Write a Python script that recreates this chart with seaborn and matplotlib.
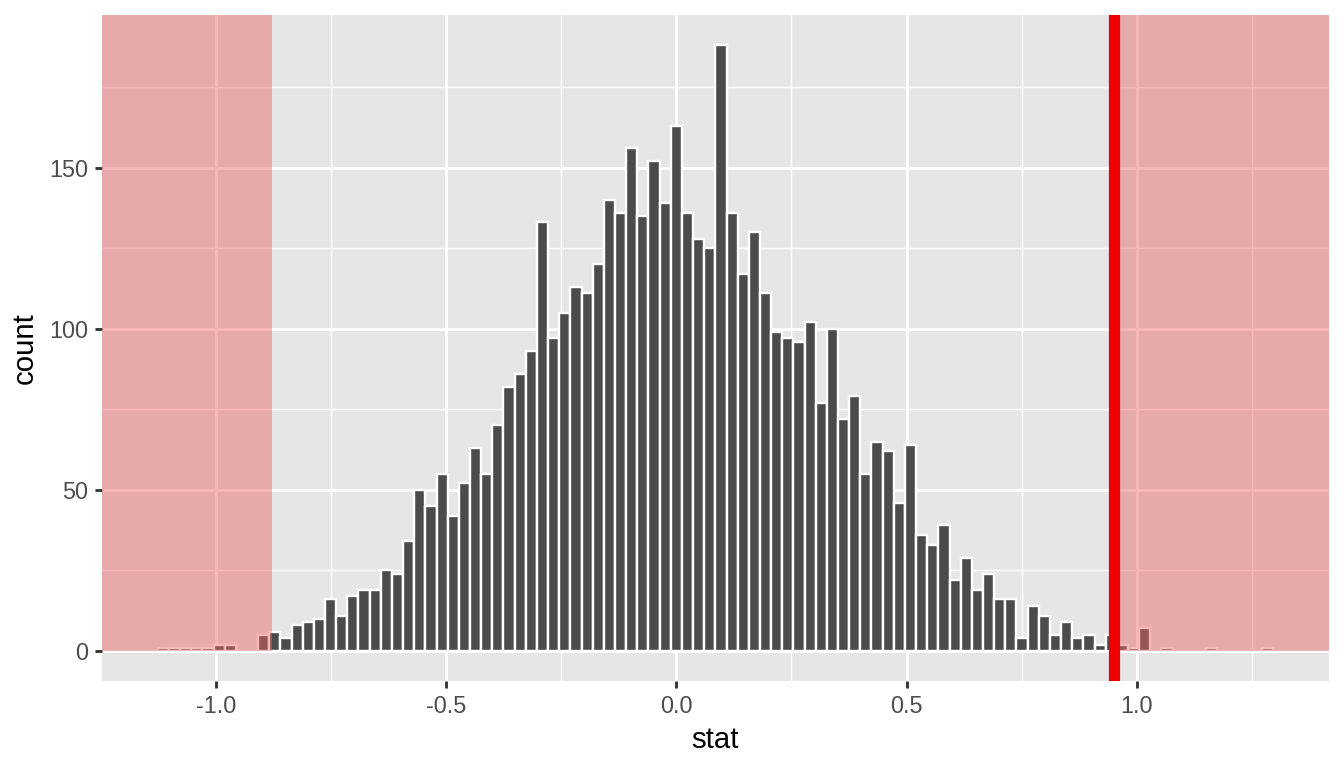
import numpy as np
import matplotlib
matplotlib.use("Agg")
import matplotlib.pyplot as plt
from matplotlib.ticker import MultipleLocator, FormatStrFormatter
import seaborn as sns

# bootstrap null distribution, 100 bins (counts)
counts = [1, 1, 1, 1, 1, 2, 2, 0, 0, 5,
          6, 4, 8, 9, 10, 16, 11, 17, 19, 19,
          25, 24, 34, 50, 45, 55, 42, 52, 63, 55,
          70, 82, 86, 93, 133, 97, 105, 113, 111, 120,
          140, 136, 156, 135, 152, 139, 163, 136, 128, 125,
          188, 136, 117, 130, 111, 99, 97, 96, 102, 77,
          100, 72, 79, 55, 65, 62, 46, 64, 36, 33,
          39, 22, 29, 19, 24, 16, 16, 4, 14, 11,
          5, 9, 4, 5, 2, 5, 2, 1, 7, 0,
          1, 0, 0, 0, 1, 0, 0, 0, 0, 1]
first_center = -1.1136
last_center = 1.2832
obs_stat = 0.950
mirror_stat = -0.878
x_ticks = [-1.0, -0.5, 0.0, 0.5, 1.0]
y_ticks = [0, 50, 100, 150]

n_bins = len(counts)
centers = np.linspace(first_center, last_center, n_bins)
bw = (last_center - first_center) / (n_bins - 1)
lo, hi = first_center - bw / 2, last_center + bw / 2

sns.set_theme(style="darkgrid", rc={
    "axes.facecolor": "#E6E6E6",
    "grid.color": "white",
    "axes.edgecolor": "none",
    "axes.unicode_minus": False,
})
plt.rcParams["font.family"] = ["Liberation Sans", "DejaVu Sans"]

fig = plt.figure(figsize=(7, 4), dpi=192)
ax = fig.add_axes([102 / 1344, 1 - 681.3 / 768, (1328.7 - 102) / 1344, (681.3 - 15) / 768])

sns.histplot(x=centers, weights=counts, bins=n_bins, binrange=(lo, hi),
             color="#4B4B4B", edgecolor="white", linewidth=0.9, alpha=1,
             ax=ax, zorder=2)

span = hi - lo
xlim = (lo - 0.05 * span, hi + 0.05 * span)
ymax = max(counts)
ylim = (-0.05 * ymax, ymax * 1.05)
ax.set_xlim(xlim)
ax.set_ylim(ylim)

# shaded p-value regions run from y = 0 up to the top of the panel
shade = "#EA6161"
y0 = (0 - ylim[0]) / (ylim[1] - ylim[0])
ax.axvspan(xlim[0], mirror_stat, ymin=y0, ymax=1, color=shade, alpha=0.45, lw=0, zorder=3)
ax.axvspan(obs_stat, xlim[1], ymin=y0, ymax=1, color=shade, alpha=0.45, lw=0, zorder=3)
ax.axvline(obs_stat, color="#EE0000", linewidth=4.2, zorder=4)

ax.set_xticks(x_ticks)
ax.set_yticks(y_ticks)
ax.xaxis.set_major_formatter(FormatStrFormatter("%.1f"))
ax.xaxis.set_minor_locator(MultipleLocator(0.25))
ax.yaxis.set_minor_locator(MultipleLocator(25))
ax.grid(which="major", color="white", linewidth=1.07, zorder=0)
ax.grid(which="minor", color="white", linewidth=0.53, zorder=0)
ax.set_axisbelow(True)
ax.tick_params(which="major", length=2.75, width=1.07, color="#333333",
               labelsize=8.8, labelcolor="#4D4D4D", pad=2.5, bottom=True, left=True)
ax.tick_params(which="minor", length=0)
for s in ax.spines.values():
    s.set_visible(False)

ax.set_xlabel("stat", fontsize=11, color="black", labelpad=3)
ax.set_ylabel("count", fontsize=11, color="black", labelpad=4)

fig.savefig("out.png", dpi=192)
